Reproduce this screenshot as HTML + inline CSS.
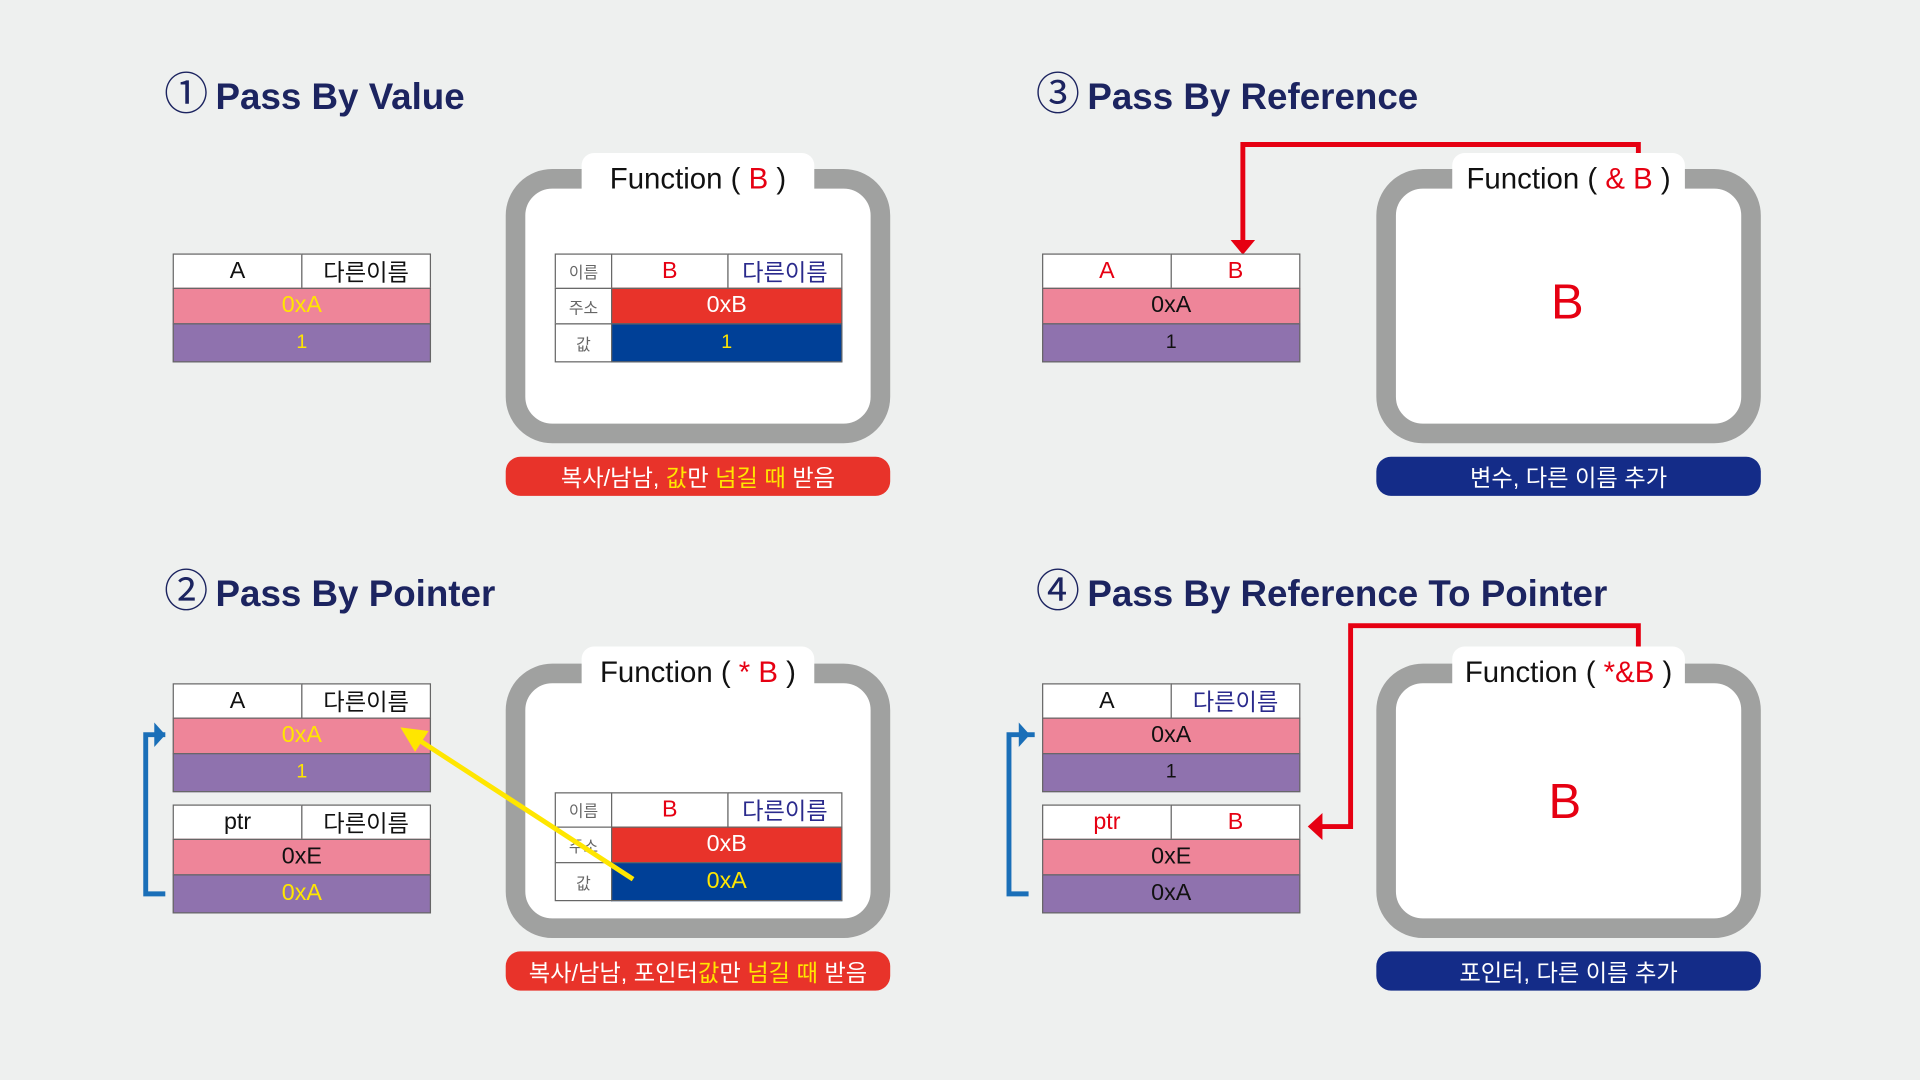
<!DOCTYPE html>
<html><head><meta charset="utf-8">
<style>
html,body{margin:0;padding:0;width:1920px;height:1080px;overflow:hidden;background:#eef0ef}
#s{position:absolute;left:0;top:0;width:1568px;height:882px;transform:scale(1.22449);transform-origin:0 0;font-family:"Liberation Sans","Noto Sans CJK KR",sans-serif}
.a{position:absolute;box-sizing:border-box}
.title{position:absolute;font-size:30px;font-weight:bold;color:#1c2460;white-space:nowrap}
.title span{font-size:36px;font-weight:normal;margin-right:6px}
.cell{position:absolute;box-sizing:border-box;display:flex;align-items:center;justify-content:center;font-size:19px;border:1px solid #666}
.w{background:#fff}.p{background:#ee8599}.v{background:#8f72ae}.r{background:#e8332a}.b{background:#004097}
.y{color:#ffe600}.k{color:#111}.rd{color:#e60012}.nv{color:#2a2a8c}.lb{color:#666;font-size:13px}
.fbox{position:absolute;width:314px;height:224px;box-sizing:border-box;border:16px solid #a0a1a0;border-radius:38px;background:#fff}
.tab{position:absolute;background:#fff;border-radius:10px;font-size:24px;color:#111;display:flex;justify-content:center;align-items:center;white-space:nowrap}
.cap{position:absolute;width:314px;height:32px;border-radius:12px;color:#fff;font-size:19px;display:flex;align-items:center;justify-content:center;white-space:nowrap}
</style></head><body><div id="s">

<!-- Q1 -->
<div class="title" style="left:134px;top:48px"><span>①</span>Pass By Value</div>
<div class="cell w k" style="left:141px;top:207px;width:106px;height:29px">A</div>
<div class="cell w k" style="left:246px;top:207px;width:106px;height:29px">다른이름</div>
<div class="cell p y" style="left:141px;top:235px;width:211px;height:30px">0xA</div>
<div class="cell v y" style="left:141px;top:264px;width:211px;height:32px;font-size:16px">1</div>

<div class="fbox" style="left:413px;top:138px"></div>
<div class="tab" style="left:475px;top:125px;width:190px;height:44px">Function (&nbsp;<span class="rd">B</span>&nbsp;)</div>
<div class="cell w lb" style="left:453px;top:207px;width:47px;height:29px">이름</div>
<div class="cell w rd" style="left:499px;top:207px;width:96px;height:29px">B</div>
<div class="cell w nv" style="left:594px;top:207px;width:94px;height:29px">다른이름</div>
<div class="cell w lb" style="left:453px;top:235px;width:47px;height:30px">주소</div>
<div class="cell r" style="left:499px;top:235px;width:189px;height:30px;color:#fff">0xB</div>
<div class="cell w lb" style="left:453px;top:264px;width:47px;height:32px">값</div>
<div class="cell b y" style="left:499px;top:264px;width:189px;height:32px;font-size:16px">1</div>
<div class="cap" style="left:413px;top:373px;background:#e8332a">복사/남남,&nbsp;<span class="y">값</span>만&nbsp;<span class="y">넘길 때</span>&nbsp;받음</div>

<!-- Q3 -->
<div class="title" style="left:846px;top:48px"><span>③</span>Pass By Reference</div>
<svg class="a" style="left:0;top:0" width="1568" height="882">
<polyline points="1338,127 1338,118 1015,118 1015,198" fill="none" stroke="#e60012" stroke-width="4"/>
<polygon points="1005,196 1025,196 1015,208" fill="#e60012"/>
<polyline points="1338,530 1338,511 1103,511 1103,675 1078,675" fill="none" stroke="#e60012" stroke-width="4"/>
<polygon points="1080,664 1080,686 1068,675" fill="#e60012"/>
<polyline points="135,600 119,600 119,730 135,730" fill="none" stroke="#1a6fb8" stroke-width="4"/>
<polygon points="126,590 126,610 135,600" fill="#1a6fb8"/>
<polyline points="845,600 824,600 824,730 840,730" fill="none" stroke="#1a6fb8" stroke-width="4"/>
<polygon points="832,590 832,610 841,600" fill="#1a6fb8"/>
</svg>
<div class="cell w rd" style="left:851px;top:207px;width:106px;height:29px">A</div>
<div class="cell w rd" style="left:956px;top:207px;width:106px;height:29px">B</div>
<div class="cell p k" style="left:851px;top:235px;width:211px;height:30px">0xA</div>
<div class="cell v k" style="left:851px;top:264px;width:211px;height:32px;font-size:16px">1</div>
<div class="fbox" style="left:1124px;top:138px"></div>
<div class="tab" style="left:1186px;top:125px;width:190px;height:44px">Function (&nbsp;<span class="rd">&amp; B</span>&nbsp;)</div>
<div class="a rd" style="left:1240px;top:225px;width:80px;text-align:center;font-size:40px">B</div>
<div class="cap" style="left:1124px;top:373px;background:#142c88">변수, 다른 이름 추가</div>

<!-- Q2 -->
<div class="title" style="left:134px;top:454px"><span>②</span>Pass By Pointer</div>
<div class="cell w k" style="left:141px;top:558px;width:106px;height:29px">A</div>
<div class="cell w k" style="left:246px;top:558px;width:106px;height:29px">다른이름</div>
<div class="cell p y" style="left:141px;top:586px;width:211px;height:30px">0xA</div>
<div class="cell v y" style="left:141px;top:615px;width:211px;height:32px;font-size:16px">1</div>
<div class="cell w k" style="left:141px;top:657px;width:106px;height:29px">ptr</div>
<div class="cell w k" style="left:246px;top:657px;width:106px;height:29px">다른이름</div>
<div class="cell p k" style="left:141px;top:685px;width:211px;height:30px">0xE</div>
<div class="cell v y" style="left:141px;top:714px;width:211px;height:32px">0xA</div>

<div class="fbox" style="left:413px;top:542px"></div>
<div class="tab" style="left:475px;top:528px;width:190px;height:44px">Function (&nbsp;<span class="rd">* B</span>&nbsp;)</div>
<div class="cell w lb" style="left:453px;top:647px;width:47px;height:29px">이름</div>
<div class="cell w rd" style="left:499px;top:647px;width:96px;height:29px">B</div>
<div class="cell w nv" style="left:594px;top:647px;width:94px;height:29px">다른이름</div>
<div class="cell w lb" style="left:453px;top:675px;width:47px;height:30px">주소</div>
<div class="cell r" style="left:499px;top:675px;width:189px;height:30px;color:#fff">0xB</div>
<div class="cell w lb" style="left:453px;top:704px;width:47px;height:32px">값</div>
<div class="cell b y" style="left:499px;top:704px;width:189px;height:32px">0xA</div>
<svg class="a" style="left:0;top:0" width="1568" height="882">
<line x1="517" y1="718" x2="340" y2="603" stroke="#ffe600" stroke-width="4"/>
<polygon points="327,594 350,597 339,614" fill="#ffe600"/>
</svg>
<div class="cap" style="left:413px;top:777px;background:#e8332a">복사/남남, 포인터<span class="y">값</span>만&nbsp;<span class="y">넘길 때</span>&nbsp;받음</div>

<!-- Q4 -->
<div class="title" style="left:846px;top:454px"><span>④</span>Pass By Reference To Pointer</div>
<div class="cell w k" style="left:851px;top:558px;width:106px;height:29px">A</div>
<div class="cell w nv" style="left:956px;top:558px;width:106px;height:29px">다른이름</div>
<div class="cell p k" style="left:851px;top:586px;width:211px;height:30px">0xA</div>
<div class="cell v k" style="left:851px;top:615px;width:211px;height:32px;font-size:16px">1</div>
<div class="cell w rd" style="left:851px;top:657px;width:106px;height:29px">ptr</div>
<div class="cell w rd" style="left:956px;top:657px;width:106px;height:29px">B</div>
<div class="cell p k" style="left:851px;top:685px;width:211px;height:30px">0xE</div>
<div class="cell v k" style="left:851px;top:714px;width:211px;height:32px">0xA</div>
<div class="fbox" style="left:1124px;top:542px"></div>
<div class="tab" style="left:1186px;top:528px;width:190px;height:44px">Function (&nbsp;<span class="rd">*&amp;B</span>&nbsp;)</div>
<div class="a rd" style="left:1238px;top:633px;width:80px;text-align:center;font-size:40px">B</div>
<div class="cap" style="left:1124px;top:777px;background:#142c88">포인터, 다른 이름 추가</div>

</div></body></html>
